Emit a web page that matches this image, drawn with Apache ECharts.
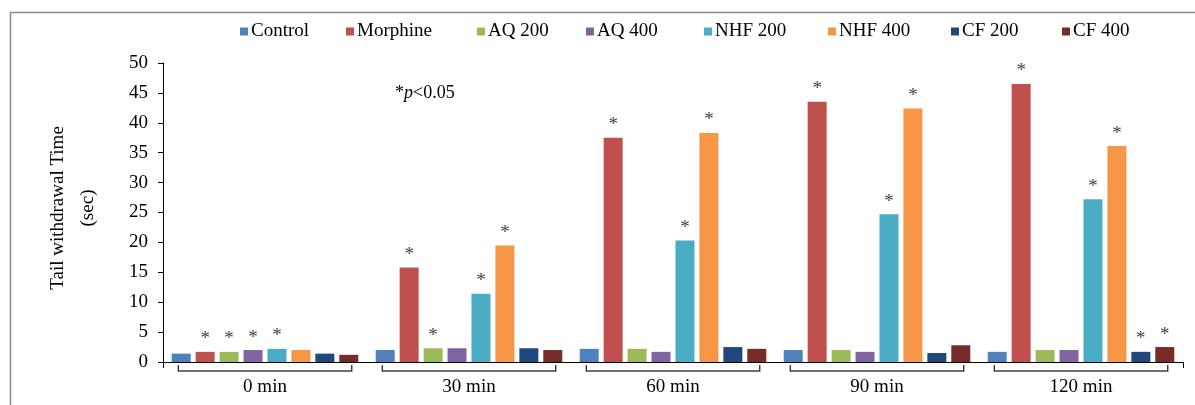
<!DOCTYPE html>
<html>
<head>
<meta charset="utf-8">
<script src="https://cdn.jsdelivr.net/npm/echarts@6/dist/echarts.min.js"></script>
<style>
html,body{margin:0;padding:0;background:#fff;}
#chart{width:1195px;height:405px;}
</style>
</head>
<body>
<div id="chart"></div>
<script>
// ---- Data ----
const categories = ['0 min', '30 min', '60 min', '90 min', '120 min'];
const seriesNames = ['Control', 'Morphine', 'AQ 200', 'AQ 400', 'NHF 200', 'NHF 400', 'CF 200', 'CF 400'];
const control  = [1.4, 2.0, 2.2, 2.0, 1.7];
const morphine = [1.7, 15.8, 37.5, 43.5, 46.5];
const aq200    = [1.7, 2.3, 2.2, 2.0, 2.0];
const aq400    = [2.0, 2.3, 1.7, 1.7, 2.0];
const nhf200   = [2.2, 11.4, 20.3, 24.7, 27.2];
const nhf400   = [2.0, 19.5, 38.3, 42.4, 36.1];
const cf200    = [1.4, 2.3, 2.5, 1.5, 1.7];
const cf400    = [1.2, 2.0, 2.2, 2.8, 2.5];
// significance markers (*p<0.05) per series, per category
const sigControl  = [0, 0, 0, 0, 0];
const sigMorphine = [1, 1, 1, 1, 1];
const sigAq200    = [1, 1, 0, 0, 0];
const sigAq400    = [1, 0, 0, 0, 0];
const sigNhf200   = [1, 1, 1, 1, 1];
const sigNhf400   = [0, 1, 1, 1, 1];
const sigCf200    = [0, 0, 0, 0, 1];
const sigCf400    = [0, 0, 0, 0, 1];
const yTicks = [0, 5, 10, 15, 20, 25, 30, 35, 40, 45, 50];

const values = [control, morphine, aq200, aq400, nhf200, nhf400, cf200, cf400];
const sigs = [sigControl, sigMorphine, sigAq200, sigAq400, sigNhf200, sigNhf400, sigCf200, sigCf400];
const colors = ['#4F81BD', '#C0504D', '#9BBB59', '#8064A2', '#4BACC6', '#F79646', '#1F497D', '#772C2A'];
const legendLeft = [240, 346, 477, 586, 704, 828, 951, 1062];

const FONT = '"Liberation Serif", "DejaVu Serif", serif';

const chart = echarts.init(document.getElementById('chart'));

const barSeries = seriesNames.map((name, si) => ({
  name: name,
  type: 'bar',
  barWidth: 19,
  barGap: '26%',
  itemStyle: { color: colors[si] },
  data: values[si].map((v, ci) => ({
    value: v,
    label: {
      show: !!sigs[si][ci],
      position: 'top',
      distance: 3,
      formatter: '*',
      fontFamily: FONT,
      fontSize: 19,
      color: '#404040'
    }
  }))
}));

const bracketSeries = {
  type: 'custom',
  silent: true,
  clip: false,
  z: 1,
  encode: { x: 0, y: 1 },
  data: categories.map((c, i) => [i, 0]),
  renderItem: function (params, api) {
    const p = api.coord([api.value(0), 0]);
    const w = api.size([1, 0])[0] * 0.85;
    return {
      type: 'polyline',
      shape: {
        points: [
          [p[0] - w / 2, p[1] + 3],
          [p[0] - w / 2, p[1] + 9],
          [p[0] + w / 2, p[1] + 9],
          [p[0] + w / 2, p[1] + 3]
        ]
      },
      style: { stroke: '#404040', lineWidth: 1.5, fill: null }
    };
  }
};

const legends = seriesNames.map((name, i) => ({
  data: [name],
  left: legendLeft[i],
  top: 22,
  icon: 'rect',
  itemWidth: 8,
  itemHeight: 8,
  itemGap: 0,
  padding: 0,
  textStyle: { fontFamily: FONT, fontSize: 19, color: '#000', padding: [0, 0, 0, -2] },
  selectedMode: false
}));

chart.setOption({
  animation: false,
  backgroundColor: '#fff',
  legend: legends,
  grid: { left: 163, right: 12, top: 63, bottom: 43, containLabel: false },
  xAxis: {
    type: 'category',
    data: categories,
    axisLine: { show: true, lineStyle: { color: '#000', width: 1 } },
    axisTick: { show: true, length: 6, lineStyle: { color: '#000' }, interval: function (i) { return i === 0; } },
    axisLabel: { fontFamily: FONT, fontSize: 19, color: '#000', margin: 16 },
    splitLine: { show: false }
  },
  yAxis: {
    type: 'value',
    min: yTicks[0],
    max: yTicks[yTicks.length - 1],
    interval: yTicks[1] - yTicks[0],
    axisLine: { show: true, lineStyle: { color: '#000', width: 1 } },
    axisTick: { show: true, length: 5, lineStyle: { color: '#000' } },
    axisLabel: { fontFamily: FONT, fontSize: 19, color: '#000', margin: 15 },
    splitLine: { show: false }
  },
  graphic: [
    {
      type: 'rect',
      left: 8, top: 10,
      shape: { width: 1300, height: 500 },
      style: { fill: null, stroke: '#8c8c8c', lineWidth: 1.5 },
      silent: true
    },
    {
      type: 'text',
      x: 73, y: 208,
      rotation: Math.PI / 2,
      style: {
        text: 'Tail withdrawal Time\n(sec)',
        align: 'center',
        verticalAlign: 'middle',
        fontFamily: FONT,
        fontSize: 19,
        lineHeight: 30,
        fill: '#000'
      }
    },
    {
      type: 'text',
      x: 395, y: 93,
      style: {
        text: '{a|*}{b|p}{a|<0.05}',
        verticalAlign: 'middle',
        rich: {
          a: { fontFamily: FONT, fontSize: 18, fill: '#000', color: '#000' },
          b: { fontFamily: FONT, fontSize: 18, fontStyle: 'italic', fill: '#000', color: '#000' }
        }
      }
    }
  ],
  series: barSeries.concat([bracketSeries])
});
</script>
</body>
</html>
